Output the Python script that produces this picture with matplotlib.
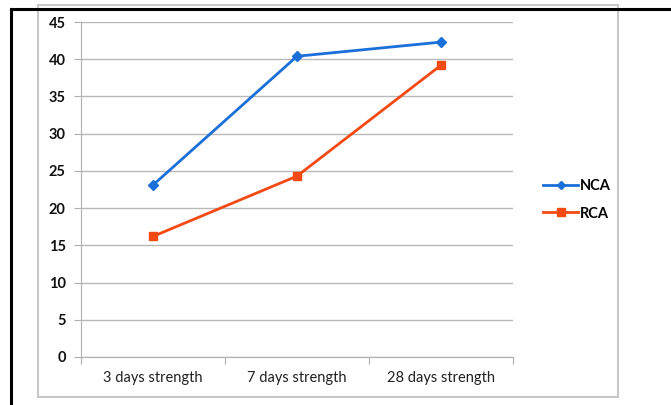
import matplotlib.pyplot as plt
from matplotlib.lines import Line2D
from matplotlib.patches import Rectangle

categories = ["3 days strength", "7 days strength", "28 days strength"]
nca = [23.1, 40.4, 42.3]
rca = [16.2, 24.3, 39.2]
y_ticks = [0, 5, 10, 15, 20, 25, 30, 35, 40, 45]

plt.rcParams["font.family"] = ["Lato", "DejaVu Sans"]

W, H = 671, 405
fig = plt.figure(figsize=(W / 100, H / 100), dpi=100)

# plot area in pixel coords: x 81..513, y 22..357
ax = fig.add_axes([81 / W, 1 - 357 / H, (513 - 81) / W, (357 - 22) / H])

x = [0.5, 1.5, 2.5]
ax.plot(x, nca, color="#1a6fd8", lw=2, marker="D", ms=5, label="NCA")
ax.plot(x, rca, color="#f24a12", lw=2, marker="s", ms=6, label="RCA")

ax.set_xlim(0, 3)
ax.set_ylim(0, 45)
ax.set_yticks(y_ticks)
ax.set_xticks([0, 1, 2, 3], minor=False)
ax.set_xticklabels([])
ax.set_xticks(x, minor=True)
ax.set_xticklabels(categories, minor=True)
ax.tick_params(axis="x", which="minor", length=0, pad=10, labelsize=10.5, colors="#222222")
ax.tick_params(axis="x", which="major", length=5, color="#b0b0b0", direction="out")
ax.tick_params(axis="y", length=5, color="#b0b0b0", labelsize=10.5, labelcolor="#111111", pad=6)
for lbl in ax.get_yticklabels():
    lbl.set_fontweight("bold")

ax.grid(axis="y", color="#b8b8b8", lw=1)
ax.set_axisbelow(True)
for s in ["top", "right"]:
    ax.spines[s].set_visible(False)
ax.spines["left"].set_color("#b0b0b0")
ax.spines["bottom"].set_color("#b0b0b0")

leg = fig.legend(handles=[
    Line2D([], [], color="#1a6fd8", lw=2, marker="D", ms=4),
    Line2D([], [], color="#f24a12", lw=2, marker="s", ms=6)],
    labels=["NCA", "RCA"], loc="center left", bbox_to_anchor=(530 / W, 1 - 200 / H),
    frameon=False, handlelength=2.4, handletextpad=0.1, labelspacing=0.9, fontsize=10.5)
for t in leg.get_texts():
    t.set_fontweight("bold")

# chart area border (gray) and outer black frame
fig.patches.append(Rectangle((38 / W, 1 - 397 / H), (618 - 38) / W, (397 - 5) / H,
                             transform=fig.transFigure, fill=False, ec="#c8c8c8", lw=1.5))
fig.add_artist(Line2D([11 / W, 11 / W], [0, 1 - 9 / H], color="black", lw=2.2, transform=fig.transFigure))
fig.add_artist(Line2D([11 / W, 1], [1 - 9 / H, 1 - 9 / H], color="black", lw=2.2, transform=fig.transFigure))

fig.savefig("out.png", dpi=100)
